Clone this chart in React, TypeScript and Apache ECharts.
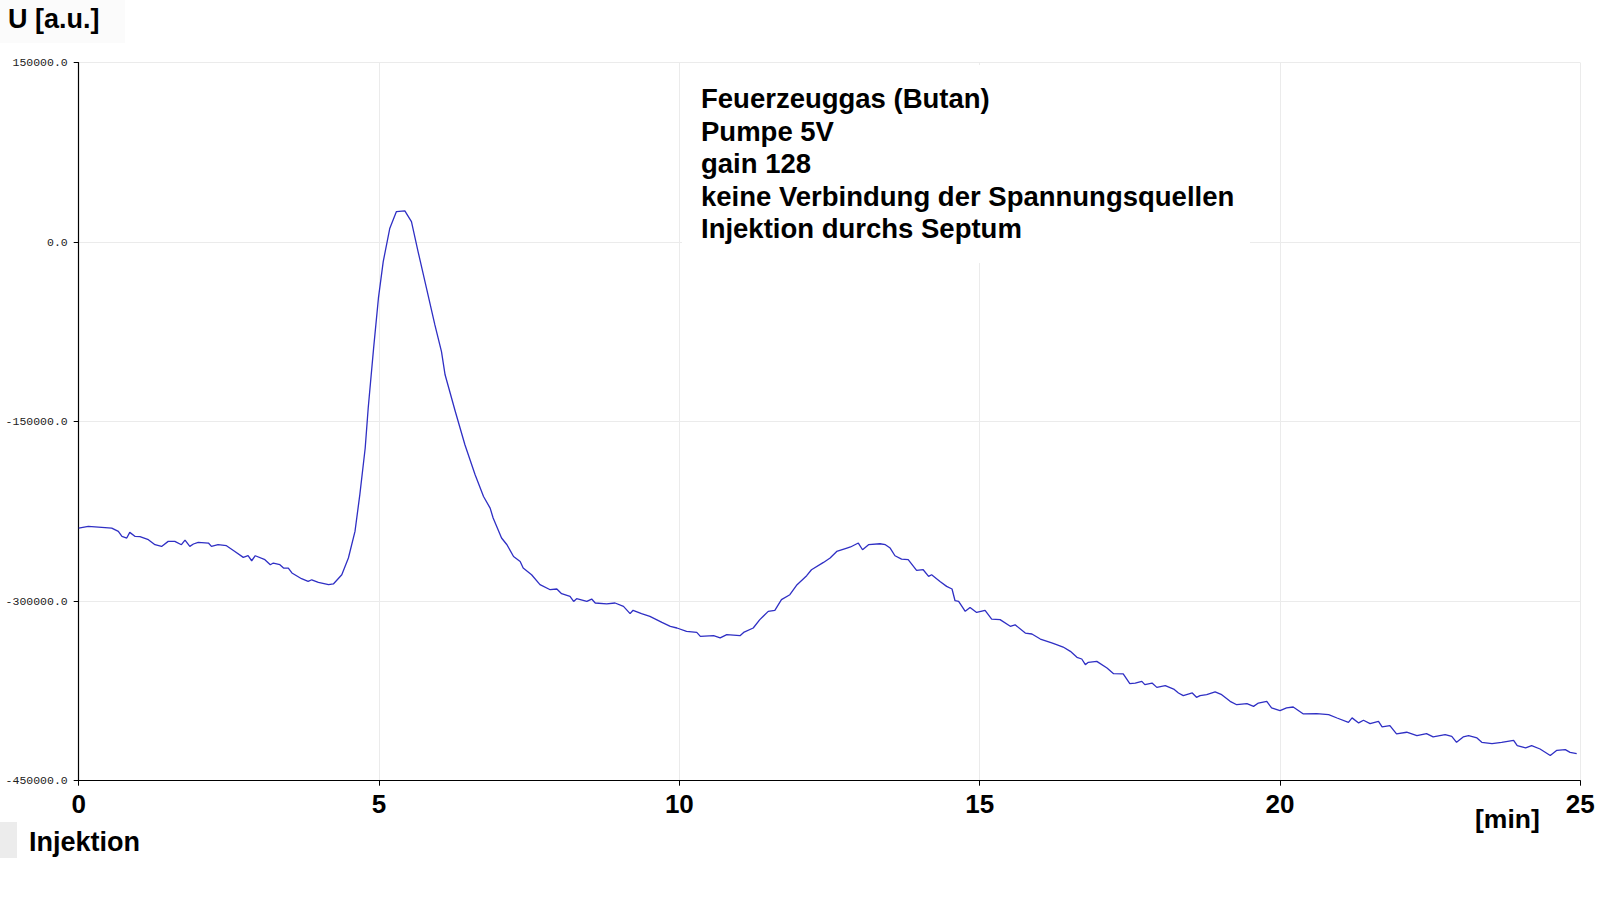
import React, { useEffect, useRef } from "react";
import * as echarts from "echarts";

// Retention time [min]
const timeMin: number[] = [
  0.0, 0.16, 0.55, 0.66, 0.72, 0.8, 0.85, 0.94, 1.02, 1.16, 1.27, 1.38, 1.49, 1.6, 1.71, 1.77, 1.85, 1.91,
  1.99, 2.16, 2.21, 2.32, 2.46, 2.6, 2.74, 2.82, 2.88, 2.94, 3.1, 3.19, 3.24, 3.35, 3.41, 3.49, 3.55, 3.71,
  3.82, 3.88, 3.99, 4.16, 4.24, 4.38, 4.49, 4.6, 4.68, 4.77, 4.82, 4.91, 4.99, 5.07, 5.18, 5.29, 5.43, 5.54,
  5.65, 5.79, 5.93, 6.04, 6.1, 6.27, 6.43, 6.6, 6.74, 6.85, 6.9, 7.04, 7.13, 7.24, 7.35, 7.4, 7.54, 7.68,
  7.85, 7.96, 8.04, 8.18, 8.24, 8.29, 8.46, 8.54, 8.6, 8.79, 8.93, 9.07, 9.18, 9.23, 9.37, 9.51, 9.71, 9.85,
  9.96, 10.12, 10.29, 10.35, 10.57, 10.68, 10.79, 11.01, 11.07, 11.23, 11.34, 11.48, 11.59, 11.7, 11.84,
  11.96, 12.12, 12.2, 12.4, 12.51, 12.62, 12.79, 12.85, 12.98, 13.05, 13.15, 13.34, 13.43, 13.51, 13.59,
  13.7, 13.81, 13.95, 14.06, 14.15, 14.2, 14.34, 14.45, 14.54, 14.59, 14.65, 14.76, 14.84, 14.95, 15.09,
  15.2, 15.34, 15.51, 15.59, 15.76, 15.87, 16.01, 16.2, 16.28, 16.39, 16.51, 16.62, 16.7, 16.76, 16.81,
  16.95, 17.12, 17.23, 17.39, 17.5, 17.59, 17.7, 17.75, 17.87, 17.95, 18.09, 18.23, 18.31, 18.39, 18.54,
  18.61, 18.67, 18.78, 18.92, 19.03, 19.17, 19.28, 19.45, 19.56, 19.64, 19.78, 19.86, 20.0, 20.11, 20.22,
  20.39, 20.61, 20.81, 20.95, 21.14, 21.2, 21.31, 21.39, 21.5, 21.64, 21.7, 21.83, 21.94, 22.11, 22.28,
  22.44, 22.55, 22.75, 22.86, 22.94, 23.05, 23.14, 23.28, 23.36, 23.53, 23.69, 23.89, 23.95, 24.09, 24.19,
  24.33, 24.5, 24.61, 24.75, 24.83, 24.94,
];

// Detector signal U [a.u.]
const signal: number[] = [
  -238900, -237500, -238900, -241700, -245900, -247200, -242500, -245900, -246100, -248600, -252800, -254200,
  -250000, -250000, -252800, -249000, -254200, -252200, -250900, -251400, -254200, -252800, -253600, -258400,
  -263400, -262000, -266200, -262000, -265300, -269500, -268100, -269500, -272300, -272300, -276400, -281200,
  -283500, -282100, -284300, -286200, -285600, -277900, -263900, -241700, -211100, -172000, -138600, -88500,
  -46800, -16200, 11700, 25600, 26100, 17200, -7800, -38400, -69100, -91400, -110800, -141500, -169300,
  -194400, -212500, -222200, -230500, -247200, -252800, -262600, -266800, -272300, -277900, -286200, -290400,
  -289800, -293700, -296000, -300200, -297900, -300200, -298200, -301500, -302300, -301500, -304300, -310400,
  -307600, -310400, -312700, -317700, -321100, -322400, -325200, -326100, -329400, -328800, -330700, -327900,
  -328800, -326100, -322400, -315400, -308500, -307700, -298700, -294600, -286200, -278700, -273700, -267600,
  -263900, -258400, -255600, -254700, -251400, -257000, -252800, -252000, -252800, -255600, -262000, -264800,
  -265300, -274300, -273700, -279300, -277900, -283500, -287600, -289800, -299600, -300200, -308500, -305200,
  -309400, -307700, -314900, -315400, -321000, -319700, -326600, -327400, -331600, -334900, -336300, -338300,
  -341900, -346900, -348300, -353000, -351100, -350300, -355800, -360600, -360800, -368900, -368400, -367000,
  -369700, -368400, -372000, -370600, -373400, -376700, -378900, -376700, -380300, -378900, -378100, -375800,
  -378100, -383700, -386500, -385600, -387900, -385100, -383700, -389200, -391500, -389200, -388400, -394200,
  -394000, -394800, -397600, -401200, -397500, -401700, -399500, -402300, -400400, -405100, -404000, -410900,
  -409500, -412300, -410600, -413400, -411500, -412900, -417900, -413400, -412300, -414300, -417900, -419000,
  -417900, -416300, -420700, -422600, -420700, -423500, -429000, -424600, -424000, -426300, -427400,
];

const xTicks: number[] = [0, 5, 10, 15, 20, 25];
const yTicks: number[] = [-450000, -300000, -150000, 0, 150000];

const yAxisTitle = "U [a.u.]";
const xAxisTitle = "[min]";
const injectionLabel = "Injektion";
const infoLines: string[] = [
  "Feuerzeuggas (Butan)",
  "Pumpe 5V",
  "gain 128",
  "keine Verbindung der Spannungsquellen",
  "Injektion durchs Septum",
];

const BOLD_FONT = "'Liberation Sans', Arial, Helvetica, sans-serif";

export default function App() {
  const ref = useRef<HTMLDivElement | null>(null);

  useEffect(() => {
    if (!ref.current) return;
    const chart = echarts.init(ref.current, undefined, { renderer: "svg" });
    const seriesData = timeMin.map((t, i) => [t, signal[i]]);

    chart.setOption({
      animation: false,
      backgroundColor: "#ffffff",
      grid: { left: 78.7, right: 19.7, top: 62.7, bottom: 119.3, containLabel: false },
      xAxis: {
        type: "value",
        min: xTicks[0],
        max: xTicks[xTicks.length - 1],
        interval: 5,
        axisLine: { onZero: false, lineStyle: { color: "#000000", width: 1.2 } },
        axisTick: { show: true, length: 5, lineStyle: { color: "#000000", width: 1 } },
        axisLabel: {
          margin: 10,
          fontSize: 26,
          fontWeight: "bold",
          fontFamily: BOLD_FONT,
          color: "#000000",
          showMinLabel: true,
          showMaxLabel: true,
        },
        splitLine: { show: true, lineStyle: { color: "#ebebeb", width: 1 } },
      },
      yAxis: {
        type: "value",
        min: yTicks[0],
        max: yTicks[yTicks.length - 1],
        interval: 150000,
        axisLine: { show: true, lineStyle: { color: "#000000", width: 1.2 } },
        axisTick: { show: true, length: 5, lineStyle: { color: "#000000", width: 1 } },
        axisLabel: {
          margin: 11,
          fontSize: 11.5,
          fontFamily: "'Liberation Mono', 'Courier New', monospace",
          color: "#222222",
          padding: [5, 0, 0, 0],
          formatter: (v: number) => v.toFixed(1),
        },
        splitLine: { show: true, lineStyle: { color: "#ebebeb", width: 1 } },
      },
      series: [
        {
          type: "line",
          data: seriesData,
          showSymbol: false,
          symbol: "none",
          smooth: false,
          lineStyle: { color: "#2f2fc4", width: 1.3 },
          z: 3,
        },
      ],
      graphic: [
        {
          type: "rect",
          z: 50,
          shape: { x: 682, y: 65, width: 568, height: 198 },
          style: { fill: "#ffffff" },
        },
        {
          type: "text",
          z: 60,
          left: 701,
          top: 82.8,
          style: {
            text: infoLines.join("\n"),
            font: `bold 27.5px ${BOLD_FONT}`,
            lineHeight: 32.4,
            fill: "#000000",
          },
        },
        {
          type: "rect",
          z: 40,
          shape: { x: 0, y: 0, width: 125, height: 43 },
          style: { fill: "#fbfbfb" },
        },
        {
          type: "text",
          z: 60,
          x: 8,
          y: 19,
          style: {
            text: yAxisTitle,
            font: `bold 27px ${BOLD_FONT}`,
            fill: "#000000",
            verticalAlign: "middle",
            align: "left",
          },
        },
        {
          type: "text",
          z: 60,
          x: 1475,
          y: 819,
          style: {
            text: xAxisTitle,
            font: `bold 26.5px ${BOLD_FONT}`,
            fill: "#000000",
            verticalAlign: "middle",
            align: "left",
          },
        },
        {
          type: "rect",
          z: 40,
          shape: { x: 0, y: 822, width: 17, height: 36 },
          style: { fill: "#ececec" },
        },
        {
          type: "text",
          z: 60,
          x: 29,
          y: 842,
          style: {
            text: injectionLabel,
            font: `bold 27px ${BOLD_FONT}`,
            fill: "#000000",
            verticalAlign: "middle",
            align: "left",
          },
        },
      ],
    });

    return () => {
      chart.dispose();
    };
  }, []);

  return (
    <div
      ref={ref}
      style={{ position: "fixed", left: 0, top: 0, width: 1600, height: 900, background: "#ffffff" }}
    />
  );
}
